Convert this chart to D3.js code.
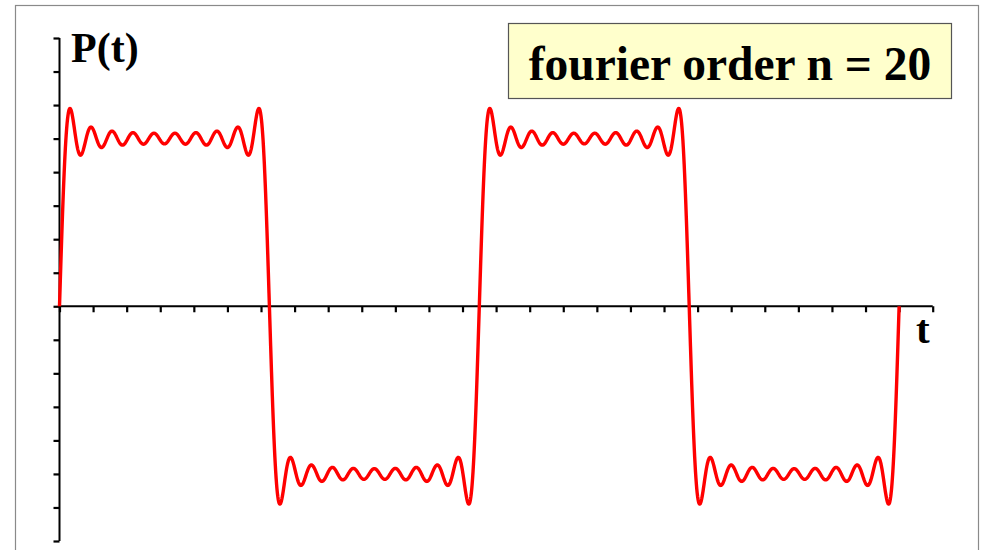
<!DOCTYPE html>
<html>
<head>
<meta charset="utf-8">
<script src="https://cdn.jsdelivr.net/npm/d3@7"></script>
<style>
  html, body { margin: 0; padding: 0; background: #fff; }
  svg { display: block; }
</style>
</head>
<body>
<svg id="chart" width="981" height="550"></svg>
<script>
// Odd harmonics of the square wave and their sine amplitudes (4 / (pi k)), orders up to n = 20
const harmonics = [1, 3, 5, 7, 9, 11, 13, 15, 17, 19];
const amplitudes = [1.27324, 0.42441, 0.25465, 0.18189, 0.14147, 0.11575, 0.09794, 0.08488, 0.07490, 0.06701];
const period = 1;
const tRange = [0, 2];

// Axis ticks (unlabelled)
const xTicks = d3.range(0, 27).map(i => +(i * 0.08).toFixed(2));
const yTicks = d3.range(-7, 9).map(i => +(i * 0.2).toFixed(2));

const legendText = "fourier order n = 20";
const yLabel = "P(t)";
const xLabel = "t";

const svg = d3.select("#chart");

// outer frame
svg.append("rect")
  .attr("x", 15.5).attr("y", 5.5)
  .attr("width", 963).attr("height", 560)
  .attr("fill", "#fff").attr("stroke", "#8a8a8a").attr("stroke-width", 1.2);

const x = d3.scaleLinear().domain([0, 2.08]).range([59.5, 932.7]);
const y = d3.scaleLinear().domain([-1.4, 1.6]).range([541, 38]);

// y axis
const yAxis = d3.axisLeft(y).tickValues(yTicks).tickSize(6).tickFormat("");
const gy = svg.append("g").attr("transform", `translate(${x(0)},0)`).call(yAxis);
gy.select(".domain").attr("stroke", "#000").attr("stroke-width", 2).attr("d", `M0,${y(1.6)}V${y(-1.4)}`);
gy.selectAll(".tick line").attr("stroke", "#000").attr("stroke-width", 2.2);

// x axis
const xAxis = d3.axisBottom(x).tickValues(xTicks).tickSize(6).tickFormat("");
const gx = svg.append("g").attr("transform", `translate(0,${y(0)})`).call(xAxis);
gx.select(".domain").attr("stroke", "#000").attr("stroke-width", 2).attr("d", `M${x(0)},0H${x(2.08)}`);
gx.selectAll(".tick line").attr("stroke", "#000").attr("stroke-width", 2.2);

// partial Fourier sum
function partialSum(t) {
  let s = 0;
  for (let i = 0; i < harmonics.length; i++) {
    s += amplitudes[i] * Math.sin(2 * Math.PI * harmonics[i] * t / period);
  }
  return s;
}
const samples = d3.range(0, 2001).map(i => {
  const t = tRange[0] + (tRange[1] - tRange[0]) * i / 2000;
  return { t, v: partialSum(t) };
});

const line = d3.line().x(d => x(d.t)).y(d => y(d.v)).curve(d3.curveLinear);
svg.append("path")
  .datum(samples)
  .attr("d", line)
  .attr("fill", "none")
  .attr("stroke", "#ff0000")
  .attr("stroke-width", 3.4)
  .attr("stroke-linejoin", "round");

// axis labels
svg.append("text")
  .attr("x", 71).attr("y", 62)
  .attr("font-family", "'Liberation Serif', 'Times New Roman', serif")
  .attr("font-weight", "bold").attr("font-size", 42)
  .text(yLabel);

svg.append("text")
  .attr("x", 916).attr("y", 343)
  .attr("font-family", "'Liberation Serif', 'Times New Roman', serif")
  .attr("font-weight", "bold").attr("font-size", 41)
  .text(xLabel);

// legend box
svg.append("rect")
  .attr("x", 508.5).attr("y", 23.5)
  .attr("width", 443).attr("height", 75)
  .attr("fill", "#ffffcc").attr("stroke", "#555").attr("stroke-width", 1.2);
svg.append("text")
  .attr("x", 730).attr("y", 80)
  .attr("text-anchor", "middle")
  .attr("font-family", "'Liberation Serif', 'Times New Roman', serif")
  .attr("font-weight", "bold").attr("font-size", 47.5)
  .text(legendText);
</script>
</body>
</html>
